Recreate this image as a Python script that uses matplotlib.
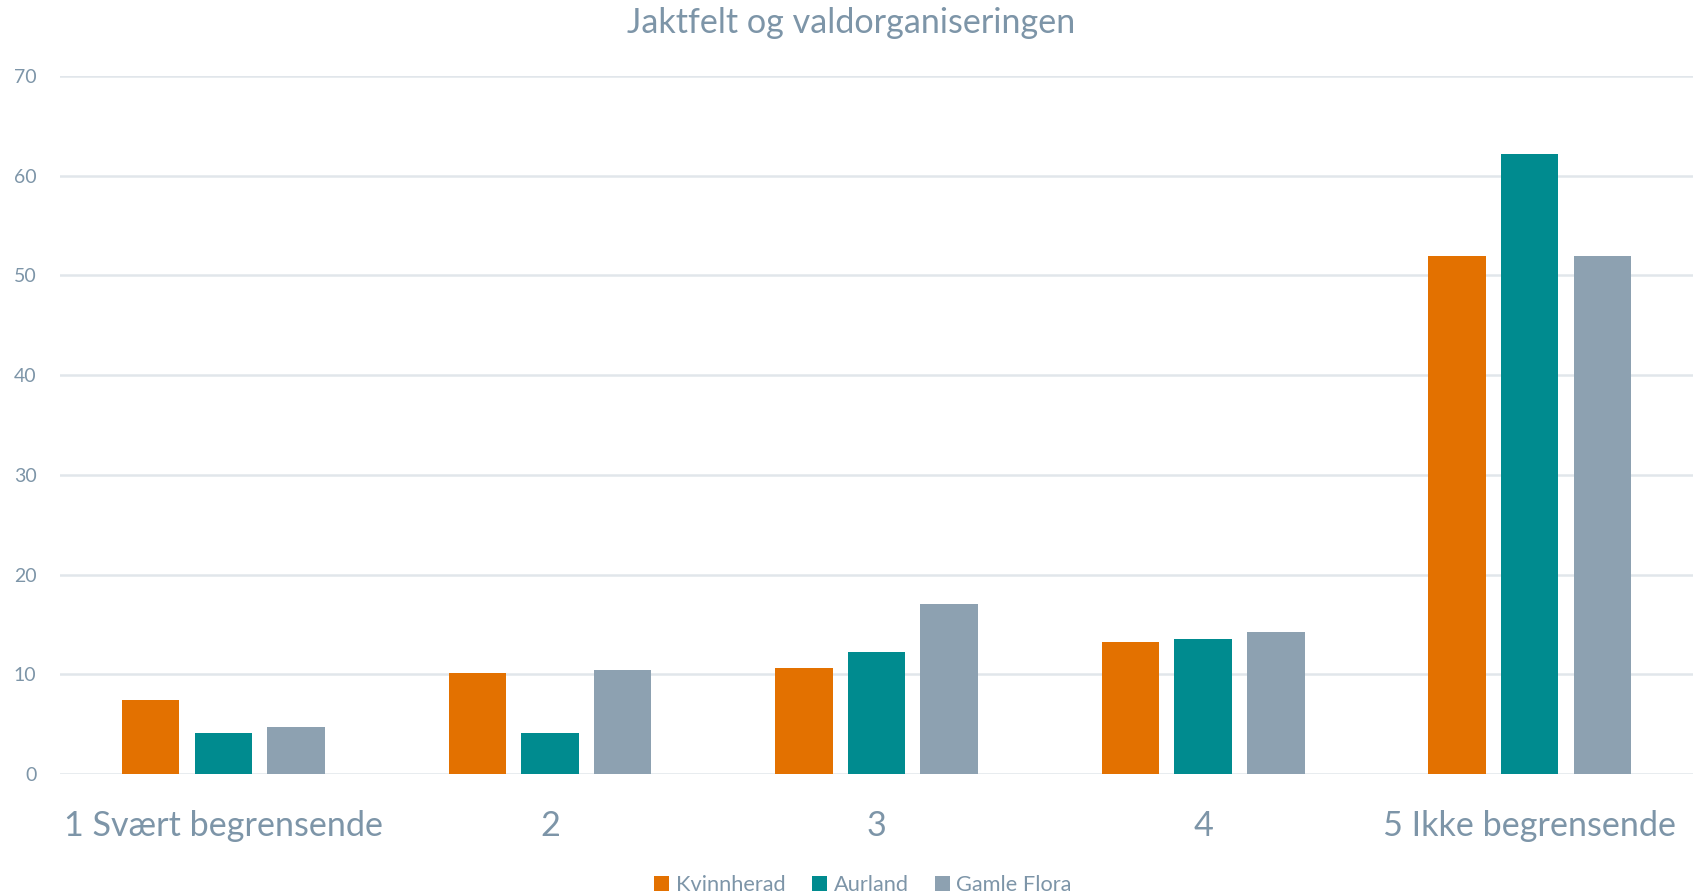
import numpy as np
import matplotlib
matplotlib.use("Agg")
import matplotlib.pyplot as plt

categories = ["1 Svært begrensende", "2", "3", "4", "5 Ikke begrensende"]
series_names = ["Kvinnherad", "Aurland", "Gamle Flora"]
kvinnherad = [7.4, 10.1, 10.6, 13.2, 51.9]
aurland = [4.1, 4.1, 12.2, 13.5, 62.2]
gamle_flora = [4.7, 10.4, 17.0, 14.2, 51.9]
yticks = [0, 10, 20, 30, 40, 50, 60, 70]

colors = ["#E37100", "#008B8F", "#8DA1B1"]
text_color = "#7D95A8"
grid_color = "#E1E6EB"

plt.rcParams["font.family"] = ["Lato", "DejaVu Sans"]

fig = plt.figure(figsize=(17.02, 8.96), dpi=100)
ax = fig.add_axes([0.0353, 0.1362, 0.9594, 0.779])

x = np.arange(len(categories))
width = 0.176
step = 0.2226
for i, (vals, name) in enumerate(zip([kvinnherad, aurland, gamle_flora], series_names)):
    ax.bar(x + (i - 1) * step, vals, width, color=colors[i], label=name, zorder=3)

ax.set_xlim(-0.5, len(categories) - 0.5)
ax.set_ylim(0, 70)
ax.set_yticks(yticks)
ax.set_yticklabels([str(t) for t in yticks])
ax.set_xticks(x)
ax.set_xticklabels(categories)
ax.grid(axis="y", color=grid_color, linewidth=1.8, zorder=0)
for s in ax.spines.values():
    s.set_visible(False)
ax.tick_params(axis="y", length=0, pad=17, labelsize=14, labelcolor=text_color)
ax.tick_params(axis="x", length=0, pad=26, labelsize=24.6, labelcolor=text_color)

fig.text(0.5, 1 - 23 / 896, "Jaktfelt og valdorganiseringen", ha="center", va="center",
         fontsize=24.6, color=text_color)

fig.legend(loc="center", bbox_to_anchor=(863 / 1702, 1 - 885 / 896), ncol=3, frameon=False,
           fontsize=15.7, labelcolor=text_color, handlelength=0.7, handleheight=0.7,
           handletextpad=0.3, columnspacing=1.2)

fig.savefig("out.png", dpi=100)
